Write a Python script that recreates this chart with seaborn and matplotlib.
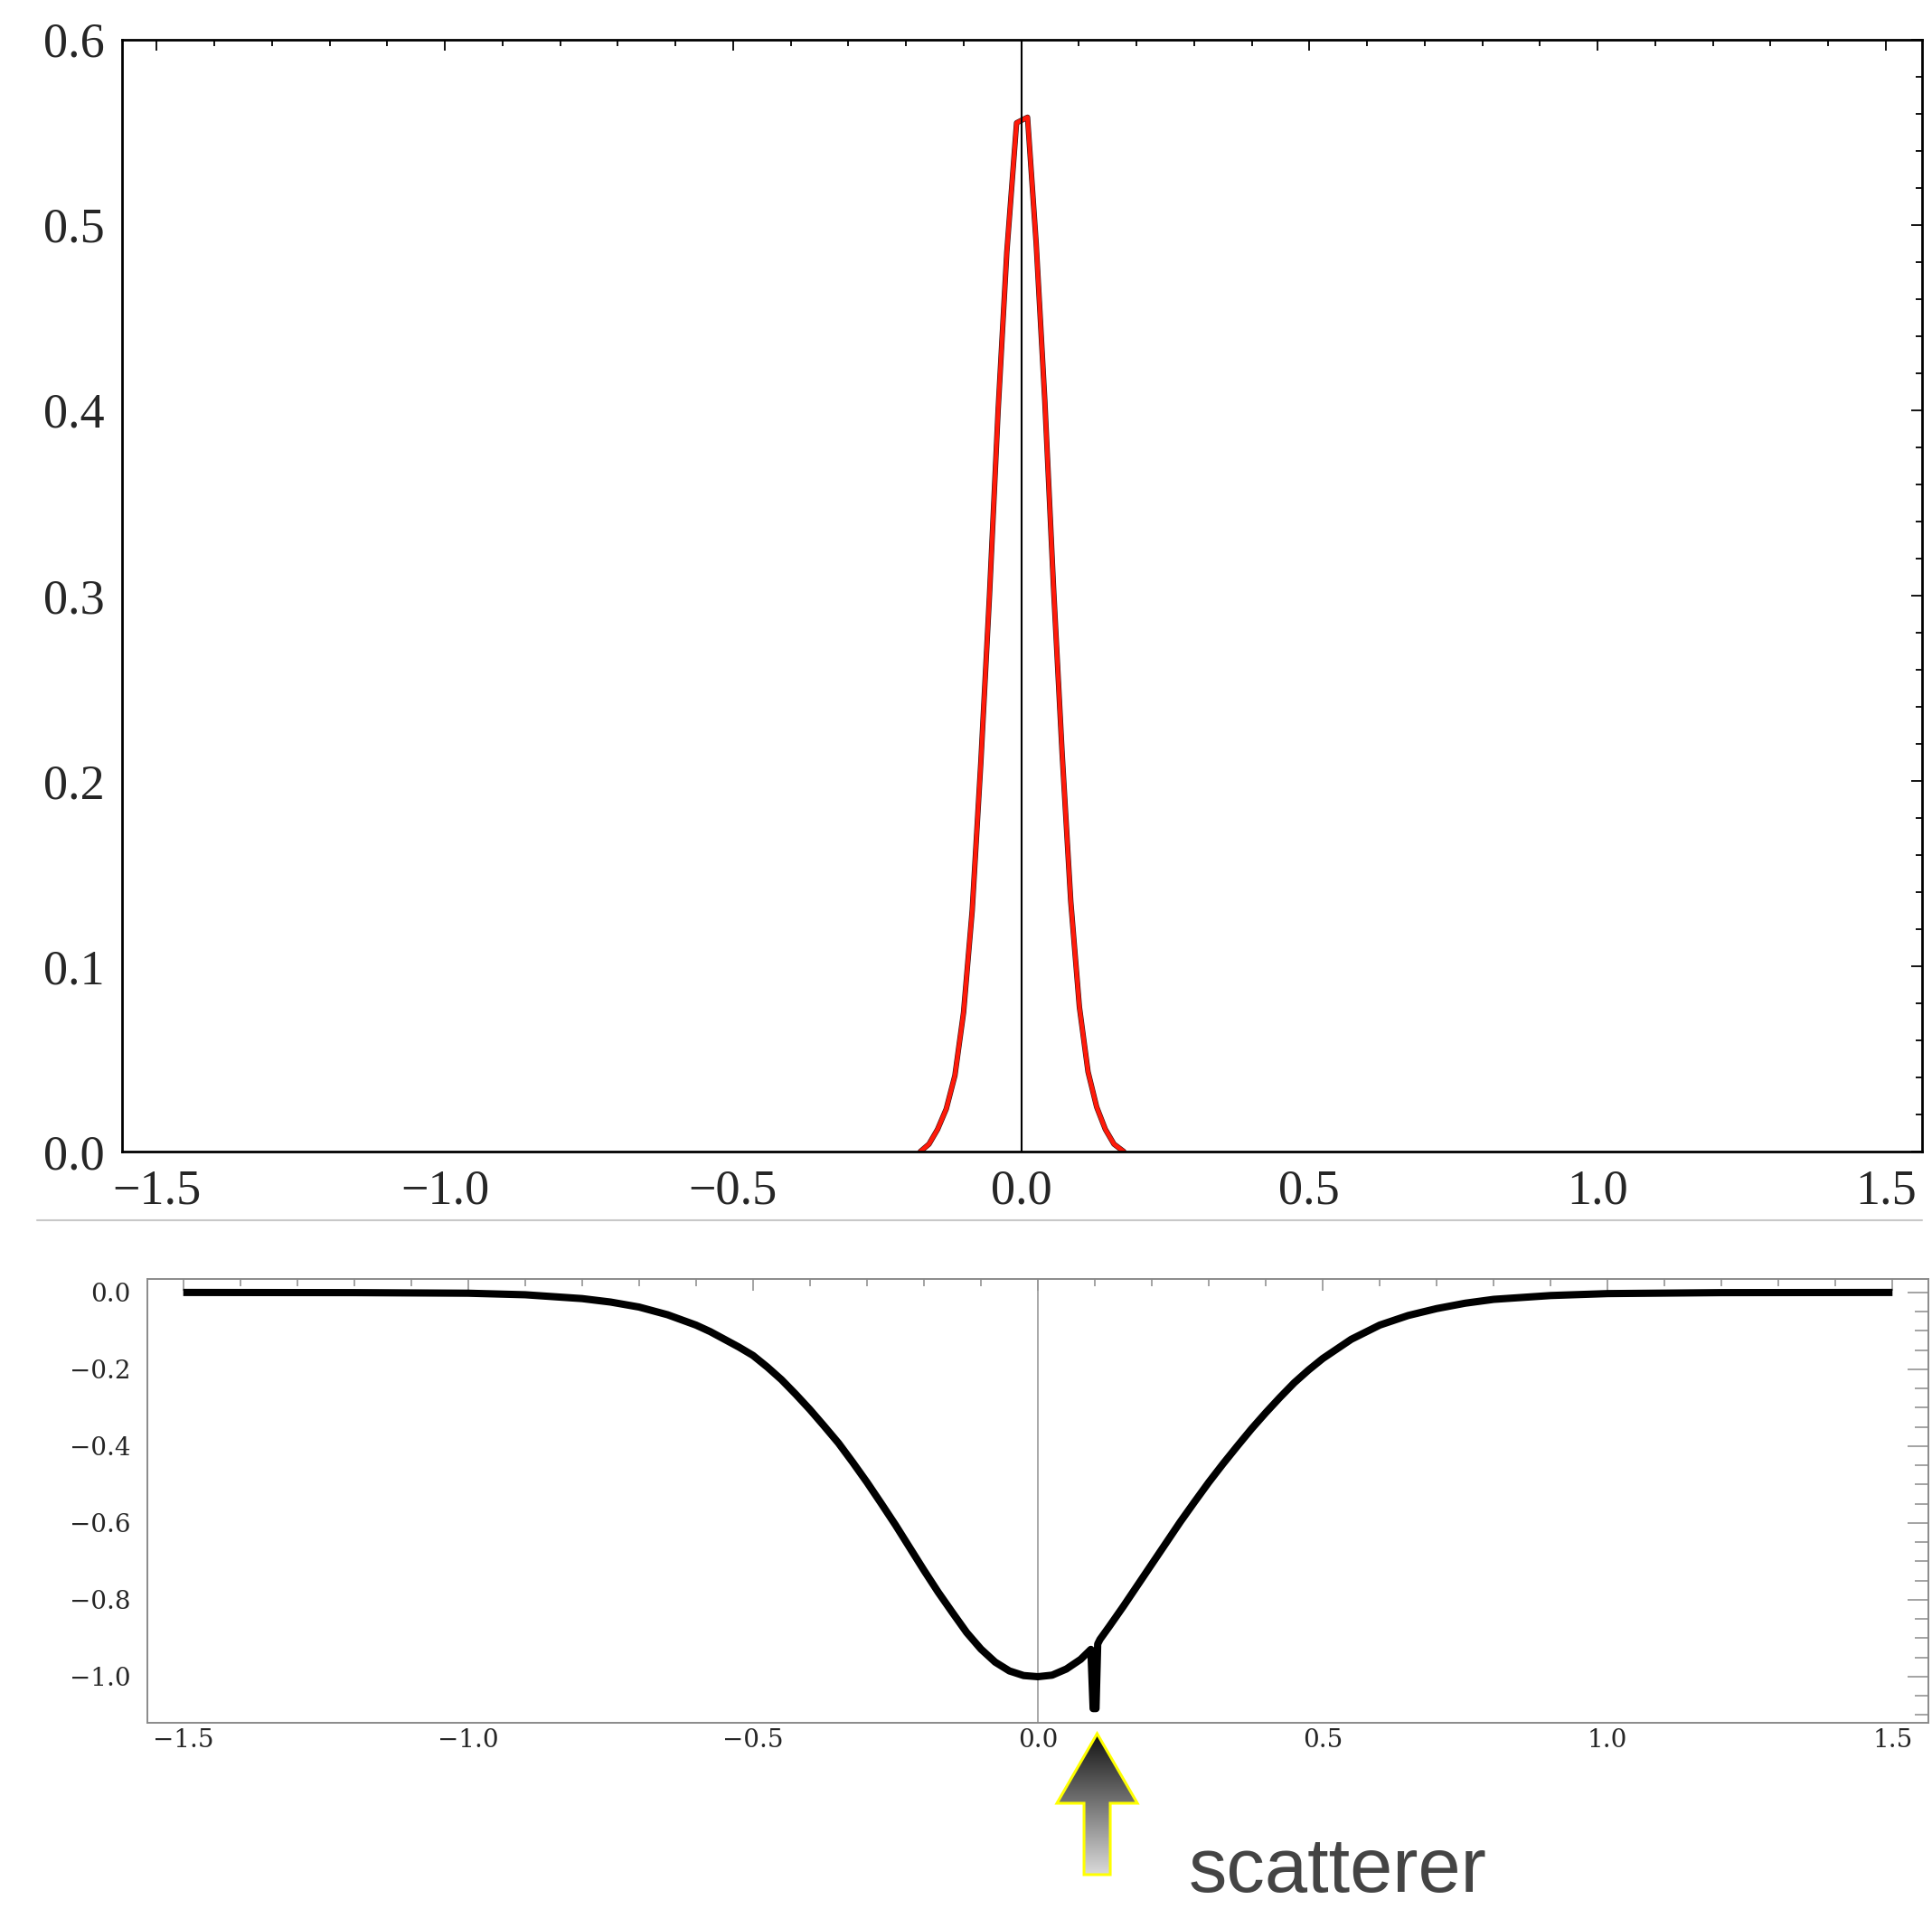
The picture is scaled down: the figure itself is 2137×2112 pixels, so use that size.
"""
Wave packet density (top) and potential with scatterer (bottom)
"""
import numpy as np
import pandas as pd
import matplotlib
matplotlib.use("Agg")
import matplotlib.pyplot as plt
import seaborn as sns
from matplotlib.lines import Line2D
from matplotlib.patches import Polygon
from matplotlib.colors import LinearSegmentedColormap
from matplotlib.ticker import MultipleLocator

sns.set_style("white")
plt.rcParams['font.family'] = ['Liberation Serif', 'DejaVu Serif']
plt.rcParams['axes.unicode_minus'] = True

# top panel: probability density
top_x = [-0.175, -0.16, -0.145, -0.13, -0.115, -0.1, -0.085, -0.07, -0.055, -0.04,
         -0.025, -0.008, 0.011, 0.026, 0.041, 0.056, 0.071, 0.086, 0.101, 0.116,
         0.131, 0.146, 0.161, 0.178]
top_y = [0.0, 0.004, 0.012, 0.023, 0.041, 0.075, 0.13, 0.21, 0.30, 0.40,
         0.485, 0.555, 0.558, 0.49, 0.405, 0.305, 0.215, 0.135, 0.078, 0.043,
         0.024, 0.012, 0.004, 0.0]

# bottom panel: potential well with the scatterer spike
bot_x = [-1.5, -1.2, -1.0, -0.9, -0.8, -0.75, -0.7, -0.65, -0.6, -0.575, -0.55,
         -0.525, -0.5, -0.475, -0.45, -0.425, -0.4, -0.375, -0.35, -0.325, -0.3,
         -0.275, -0.25, -0.225, -0.2, -0.175, -0.15, -0.125, -0.1, -0.075, -0.05,
         -0.025, 0.0, 0.025, 0.05, 0.075, 0.093, 0.097, 0.102, 0.105, 0.109, 0.125,
         0.15, 0.175, 0.2, 0.225, 0.25, 0.275, 0.3, 0.325, 0.35, 0.375, 0.4, 0.425,
         0.45, 0.475, 0.5, 0.55, 0.6, 0.65, 0.7, 0.75, 0.8, 0.9, 1.0, 1.2, 1.5]
bot_y = [0.0, -0.0005, -0.002, -0.006, -0.016, -0.025, -0.038, -0.058, -0.085,
         -0.102, -0.122, -0.142, -0.164, -0.194, -0.227, -0.265, -0.305, -0.348,
         -0.392, -0.442, -0.494, -0.549, -0.605, -0.664, -0.723, -0.78, -0.833,
         -0.885, -0.928, -0.962, -0.985, -0.997, -1.0, -0.996, -0.98, -0.955,
         -0.929, -1.083, -1.083, -0.915, -0.903, -0.87, -0.817, -0.762, -0.707,
         -0.652, -0.597, -0.545, -0.494, -0.446, -0.4, -0.355, -0.313, -0.273,
         -0.235, -0.202, -0.172, -0.122, -0.085, -0.06, -0.042, -0.028, -0.018,
         -0.008, -0.003, -0.0005, 0.0]

scatterer_x = 0.104
scatterer_label = 'scatterer'

W, H = 2137, 2112
fig = plt.figure(figsize=(W / 100, H / 100), dpi=100)
fig.patch.set_facecolor('white')

# ---------------- top panel ----------------
ax1 = fig.add_axes([135 / W, 1 - 1274 / H, (2126 - 135) / W, (1274 - 43.6) / H])
df_top = pd.DataFrame({'x': top_x, 'y': top_y})
sns.lineplot(data=df_top, x='x', y='y', ax=ax1, color='#3a1010', lw=4.3,
             sort=False, estimator=None, zorder=2)
sns.lineplot(data=df_top, x='x', y='y', ax=ax1, color='#ff1a0a', lw=3.4,
             sort=False, estimator=None, zorder=2.5)
ax1.axvline(0, color='black', lw=1.5, zorder=3)
ax1.set_xlim(-1.56, 1.563)
ax1.set_ylim(0, 0.6)
ax1.xaxis.set_major_locator(MultipleLocator(0.5))
ax1.xaxis.set_minor_locator(MultipleLocator(0.1))
ax1.yaxis.set_major_locator(MultipleLocator(0.1))
ax1.yaxis.set_minor_locator(MultipleLocator(0.02))
ax1.tick_params(which='both', direction='in', top=True, right=True, color='black', width=1.3)
ax1.tick_params(which='major', length=8.6, labelsize=39)
ax1.tick_params(which='minor', length=5)
ax1.tick_params(axis='y', pad=14)
ax1.tick_params(axis='x', pad=14)
for sp in ax1.spines.values():
    sp.set_visible(True)
    sp.set_color('black')
    sp.set_linewidth(2)
ax1.set_xlabel('')
ax1.set_ylabel('')

# separator line between the panels
fig.add_artist(Line2D([41 / W, 2126 / W], [1 - 1350 / H, 1 - 1350 / H],
                      transform=fig.transFigure, color='#c8c8c8', lw=1.5))

# ---------------- bottom panel ----------------
ax2 = fig.add_axes([163 / W, 1 - 1906 / H, (2133 - 163) / W, (1906 - 1415) / H])
df_bot = pd.DataFrame({'x': bot_x, 'y': bot_y})
ax2.axvline(0, color='#9a9a9a', lw=1.2, zorder=1)
sns.lineplot(data=df_bot, x='x', y='y', ax=ax2, color='black', lw=5.8,
             sort=False, estimator=None, zorder=2)
ax2.lines[-1].set_solid_joinstyle('round')
ax2.lines[-1].set_solid_capstyle('butt')
ax2.set_xlim(-1.563, 1.563)
ax2.set_ylim(-1.12, 0.035)
ax2.xaxis.set_major_locator(MultipleLocator(0.5))
ax2.xaxis.set_minor_locator(MultipleLocator(0.1))
ax2.yaxis.set_major_locator(MultipleLocator(0.2))
ax2.yaxis.set_minor_locator(MultipleLocator(0.05))
ax2.tick_params(which='both', direction='in', top=True, right=True, color='#8a8a8a', width=1.1)
ax2.tick_params(axis='x', which='major', length=9.4, pad=4)
ax2.tick_params(axis='x', which='minor', length=5.5)
ax2.tick_params(axis='y', which='major', length=16.5, pad=13)
ax2.tick_params(axis='y', which='minor', length=11)
for lab in ax2.get_xticklabels() + ax2.get_yticklabels():
    lab.set_family('DejaVu Serif')
    lab.set_fontsize(20)
for sp in ax2.spines.values():
    sp.set_visible(True)
    sp.set_color('#8a8a8a')
    sp.set_linewidth(1.4)
ax2.set_xlabel('')
ax2.set_ylabel('')

# ---------------- scatterer arrow ----------------
ov = fig.add_axes([0, 0, 1, 1], zorder=5)
ov.set_axis_off()
ov.patch.set_alpha(0)
tip = ax2.transData.transform((scatterer_x, ax2.get_ylim()[0]))
tx, ty = tip[0], tip[1] - 12
head_h, head_w, shaft_w, total_h = 77, 44.5, 14.5, 156
arrow_pts = [(tx, ty), (tx + head_w, ty - head_h), (tx + shaft_w, ty - head_h),
             (tx + shaft_w, ty - total_h), (tx - shaft_w, ty - total_h),
             (tx - shaft_w, ty - head_h), (tx - head_w, ty - head_h)]
grad_cmap = LinearSegmentedColormap.from_list('arrow', ['#121212', '#dadada'])
grad = np.linspace(0, 1, 256).reshape(-1, 1)
img = ov.imshow(grad, cmap=grad_cmap, aspect='auto', origin='upper',
                extent=(tx - head_w, tx + head_w, ty - total_h, ty))
clip = Polygon(arrow_pts, closed=True, transform=ov.transData, facecolor='none')
ov.add_patch(clip)
img.set_clip_path(clip)
ov.add_patch(Polygon(arrow_pts, closed=True, facecolor='none', edgecolor='#ffff00',
                     lw=2.2, joinstyle='miter'))
ov.set_xlim(0, W)
ov.set_ylim(0, H)

fig.text(1315 / W, 1 - 2093 / H, scatterer_label, fontsize=61, family='Liberation Sans',
         color='#444444', ha='left', va='baseline')

plt.savefig('out.png', dpi=100)
plt.close()
